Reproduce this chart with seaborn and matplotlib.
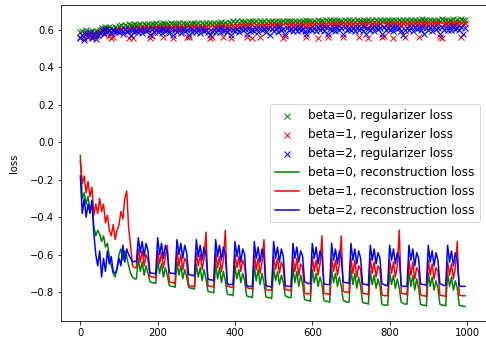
import numpy as np
import matplotlib
matplotlib.use("Agg")
import matplotlib.pyplot as plt
import seaborn as sns

# training step (sampled every 5 steps)
steps = np.arange(0, 1000, 5)

g_reg = [
    0.588, 0.594, 0.583, 0.598, 0.590, 0.586, 0.595, 0.589, 0.597, 0.592,
    0.603, 0.611, 0.606, 0.615, 0.609, 0.618, 0.612, 0.607, 0.616, 0.613,
    0.620, 0.626, 0.618, 0.629, 0.623, 0.631, 0.625, 0.622, 0.630, 0.627,
    0.627, 0.633, 0.624, 0.635, 0.629, 0.632, 0.626, 0.634, 0.630, 0.636,
    0.629, 0.635, 0.626, 0.636, 0.631, 0.634, 0.628, 0.637, 0.632, 0.635,
    0.630, 0.636, 0.627, 0.637, 0.632, 0.635, 0.629, 0.638, 0.633, 0.637,
    0.631, 0.637, 0.628, 0.638, 0.633, 0.636, 0.630, 0.639, 0.634, 0.638,
    0.633, 0.639, 0.630, 0.641, 0.635, 0.638, 0.632, 0.645, 0.640, 0.646,
    0.640, 0.646, 0.638, 0.648, 0.642, 0.645, 0.639, 0.649, 0.644, 0.647,
    0.641, 0.647, 0.639, 0.649, 0.643, 0.646, 0.640, 0.650, 0.645, 0.648,
    0.642, 0.648, 0.640, 0.650, 0.644, 0.647, 0.641, 0.651, 0.646, 0.649,
    0.643, 0.649, 0.641, 0.651, 0.645, 0.648, 0.642, 0.652, 0.647, 0.650,
    0.645, 0.651, 0.643, 0.653, 0.647, 0.650, 0.644, 0.654, 0.649, 0.652,
    0.646, 0.652, 0.644, 0.654, 0.648, 0.651, 0.645, 0.655, 0.650, 0.653,
    0.646, 0.652, 0.644, 0.654, 0.648, 0.651, 0.645, 0.655, 0.650, 0.653,
    0.647, 0.653, 0.645, 0.655, 0.649, 0.652, 0.646, 0.656, 0.651, 0.654,
    0.647, 0.653, 0.645, 0.655, 0.649, 0.652, 0.646, 0.656, 0.651, 0.654,
    0.648, 0.654, 0.646, 0.656, 0.650, 0.653, 0.647, 0.657, 0.652, 0.655,
    0.648, 0.654, 0.646, 0.656, 0.650, 0.653, 0.647, 0.657, 0.652, 0.655,
    0.649, 0.655, 0.647, 0.657, 0.651, 0.654, 0.648, 0.657, 0.653, 0.656,
]

r_reg = [
    0.565, 0.572, 0.558, 0.578, 0.568, 0.575, 0.562, 0.580, 0.570, 0.576,
    0.590, 0.598, 0.585, 0.600, 0.594, 0.568, 0.558, 0.562, 0.596, 0.601,
    0.598, 0.605, 0.595, 0.607, 0.600, 0.560, 0.604, 0.556, 0.606, 0.600,
    0.606, 0.612, 0.603, 0.614, 0.608, 0.611, 0.560, 0.566, 0.613, 0.609,
    0.608, 0.614, 0.605, 0.562, 0.610, 0.613, 0.607, 0.616, 0.558, 0.611,
    0.610, 0.616, 0.607, 0.618, 0.612, 0.561, 0.565, 0.617, 0.611, 0.615,
    0.611, 0.617, 0.608, 0.619, 0.613, 0.616, 0.610, 0.559, 0.564, 0.616,
    0.613, 0.619, 0.610, 0.621, 0.562, 0.618, 0.612, 0.622, 0.560, 0.618,
    0.618, 0.624, 0.615, 0.626, 0.620, 0.623, 0.563, 0.627, 0.622, 0.558,
    0.619, 0.625, 0.616, 0.561, 0.621, 0.624, 0.618, 0.628, 0.623, 0.626,
    0.620, 0.626, 0.617, 0.628, 0.622, 0.560, 0.566, 0.629, 0.624, 0.627,
    0.622, 0.628, 0.619, 0.630, 0.624, 0.627, 0.621, 0.562, 0.626, 0.629,
    0.624, 0.630, 0.621, 0.560, 0.626, 0.629, 0.623, 0.633, 0.564, 0.631,
    0.625, 0.631, 0.622, 0.633, 0.627, 0.630, 0.561, 0.634, 0.629, 0.632,
    0.626, 0.632, 0.623, 0.634, 0.563, 0.631, 0.625, 0.635, 0.630, 0.559,
    0.627, 0.633, 0.624, 0.635, 0.629, 0.632, 0.562, 0.567, 0.631, 0.634,
    0.627, 0.633, 0.560, 0.635, 0.629, 0.632, 0.626, 0.636, 0.564, 0.634,
    0.628, 0.634, 0.625, 0.636, 0.630, 0.561, 0.627, 0.637, 0.632, 0.635,
    0.628, 0.634, 0.625, 0.636, 0.630, 0.633, 0.563, 0.558, 0.632, 0.635,
    0.629, 0.635, 0.626, 0.637, 0.631, 0.634, 0.628, 0.562, 0.633, 0.636,
]

b_reg = [
    0.555, 0.575, 0.548, 0.585, 0.562, 0.590, 0.558, 0.580, 0.552, 0.572,
    0.585, 0.600, 0.578, 0.605, 0.590, 0.598, 0.582, 0.603, 0.588, 0.596,
    0.588, 0.602, 0.580, 0.606, 0.592, 0.599, 0.575, 0.604, 0.590, 0.597,
    0.589, 0.603, 0.585, 0.607, 0.593, 0.600, 0.576, 0.605, 0.591, 0.598,
    0.590, 0.604, 0.586, 0.608, 0.594, 0.601, 0.587, 0.606, 0.574, 0.599,
    0.590, 0.604, 0.586, 0.608, 0.594, 0.601, 0.575, 0.606, 0.592, 0.599,
    0.591, 0.605, 0.587, 0.609, 0.595, 0.602, 0.588, 0.576, 0.593, 0.600,
    0.592, 0.606, 0.588, 0.610, 0.596, 0.603, 0.589, 0.608, 0.575, 0.601,
    0.594, 0.608, 0.590, 0.612, 0.598, 0.605, 0.577, 0.610, 0.596, 0.603,
    0.595, 0.609, 0.591, 0.613, 0.599, 0.606, 0.592, 0.611, 0.576, 0.604,
    0.596, 0.610, 0.592, 0.614, 0.600, 0.607, 0.578, 0.612, 0.598, 0.605,
    0.597, 0.611, 0.593, 0.615, 0.601, 0.608, 0.594, 0.577, 0.599, 0.606,
    0.598, 0.612, 0.594, 0.616, 0.602, 0.609, 0.595, 0.614, 0.578, 0.607,
    0.599, 0.613, 0.595, 0.617, 0.603, 0.610, 0.579, 0.615, 0.601, 0.608,
    0.599, 0.613, 0.595, 0.617, 0.603, 0.610, 0.596, 0.615, 0.577, 0.608,
    0.600, 0.614, 0.596, 0.618, 0.604, 0.611, 0.578, 0.616, 0.602, 0.609,
    0.600, 0.614, 0.596, 0.618, 0.604, 0.611, 0.597, 0.576, 0.602, 0.609,
    0.601, 0.615, 0.597, 0.619, 0.605, 0.612, 0.598, 0.617, 0.579, 0.610,
    0.601, 0.615, 0.597, 0.619, 0.605, 0.612, 0.577, 0.617, 0.603, 0.610,
    0.602, 0.616, 0.598, 0.620, 0.606, 0.613, 0.599, 0.618, 0.578, 0.611,
]

g_rec = [
    -0.07, -0.30, -0.27, -0.33, -0.29, -0.36, -0.33, -0.45, -0.50, -0.47,
    -0.49, -0.53, -0.50, -0.56, -0.54, -0.61, -0.66, -0.70, -0.72, -0.67,
    -0.60, -0.57, -0.63, -0.58, -0.61, -0.66, -0.70, -0.72, -0.73, -0.73,
    -0.62, -0.69, -0.64, -0.71, -0.66, -0.70, -0.745, -0.75, -0.75, -0.755,
    -0.63, -0.70, -0.65, -0.72, -0.67, -0.71, -0.765, -0.77, -0.77, -0.775,
    -0.64, -0.71, -0.66, -0.73, -0.68, -0.72, -0.775, -0.78, -0.78, -0.785,
    -0.65, -0.72, -0.67, -0.74, -0.68, -0.73, -0.795, -0.80, -0.80, -0.805,
    -0.65, -0.73, -0.67, -0.75, -0.69, -0.74, -0.81, -0.815, -0.815, -0.82,
    -0.66, -0.73, -0.68, -0.75, -0.70, -0.74, -0.82, -0.825, -0.825, -0.83,
    -0.66, -0.74, -0.68, -0.76, -0.70, -0.75, -0.825, -0.83, -0.83, -0.835,
    -0.67, -0.74, -0.69, -0.76, -0.71, -0.75, -0.82, -0.825, -0.83, -0.83,
    -0.67, -0.75, -0.69, -0.77, -0.71, -0.76, -0.84, -0.845, -0.845, -0.85,
    -0.68, -0.75, -0.70, -0.77, -0.72, -0.76, -0.845, -0.85, -0.85, -0.855,
    -0.68, -0.75, -0.70, -0.77, -0.72, -0.77, -0.845, -0.85, -0.855, -0.855,
    -0.68, -0.76, -0.70, -0.78, -0.72, -0.77, -0.855, -0.86, -0.86, -0.865,
    -0.69, -0.76, -0.71, -0.78, -0.73, -0.77, -0.865, -0.87, -0.87, -0.87,
    -0.69, -0.76, -0.71, -0.78, -0.73, -0.78, -0.855, -0.86, -0.865, -0.865,
    -0.69, -0.77, -0.71, -0.79, -0.73, -0.78, -0.865, -0.87, -0.87, -0.875,
    -0.70, -0.77, -0.72, -0.79, -0.74, -0.78, -0.865, -0.87, -0.87, -0.875,
    -0.70, -0.77, -0.72, -0.79, -0.74, -0.78, -0.87, -0.875, -0.875, -0.878,
]

r_rec = [
    -0.10, -0.22, -0.18, -0.27, -0.21, -0.29, -0.24, -0.39, -0.33, -0.38,
    -0.30, -0.37, -0.33, -0.43, -0.39, -0.47, -0.50, -0.44, -0.52, -0.47,
    -0.44, -0.37, -0.41, -0.30, -0.26, -0.46, -0.55, -0.66, -0.67, -0.67,
    -0.57, -0.64, -0.58, -0.66, -0.60, -0.63, -0.715, -0.72, -0.72, -0.725,
    -0.58, -0.65, -0.59, -0.67, -0.61, -0.55, -0.745, -0.75, -0.75, -0.755,
    -0.58, -0.66, -0.60, -0.68, -0.62, -0.64, -0.765, -0.77, -0.77, -0.77,
    -0.59, -0.66, -0.60, -0.68, -0.62, -0.48, -0.765, -0.77, -0.77, -0.775,
    -0.59, -0.67, -0.61, -0.69, -0.63, -0.47, -0.77, -0.77, -0.775, -0.775,
    -0.60, -0.67, -0.61, -0.69, -0.63, -0.66, -0.775, -0.78, -0.78, -0.785,
    -0.60, -0.68, -0.62, -0.70, -0.64, -0.52, -0.785, -0.79, -0.79, -0.79,
    -0.61, -0.68, -0.62, -0.70, -0.64, -0.67, -0.785, -0.79, -0.79, -0.795,
    -0.61, -0.69, -0.62, -0.71, -0.65, -0.67, -0.805, -0.81, -0.81, -0.81,
    -0.61, -0.69, -0.63, -0.71, -0.65, -0.50, -0.805, -0.81, -0.81, -0.815,
    -0.62, -0.69, -0.63, -0.71, -0.65, -0.50, -0.795, -0.80, -0.80, -0.805,
    -0.62, -0.70, -0.63, -0.72, -0.66, -0.68, -0.805, -0.81, -0.81, -0.815,
    -0.62, -0.70, -0.64, -0.72, -0.66, -0.68, -0.815, -0.82, -0.82, -0.82,
    -0.63, -0.70, -0.64, -0.72, -0.66, -0.47, -0.805, -0.81, -0.81, -0.815,
    -0.63, -0.71, -0.64, -0.73, -0.67, -0.69, -0.815, -0.82, -0.82, -0.825,
    -0.63, -0.71, -0.65, -0.73, -0.67, -0.69, -0.815, -0.82, -0.82, -0.825,
    -0.64, -0.71, -0.65, -0.73, -0.67, -0.53, -0.815, -0.82, -0.82, -0.82,
]

b_rec = [
    -0.18, -0.38, -0.30, -0.40, -0.33, -0.38, -0.31, -0.49, -0.60, -0.66,
    -0.58, -0.72, -0.62, -0.69, -0.58, -0.65, -0.61, -0.69, -0.70, -0.68,
    -0.62, -0.66, -0.55, -0.64, -0.57, -0.60, -0.62, -0.64, -0.635, -0.64,
    -0.51, -0.59, -0.53, -0.61, -0.54, -0.58, -0.695, -0.70, -0.70, -0.705,
    -0.51, -0.60, -0.54, -0.62, -0.55, -0.59, -0.695, -0.70, -0.70, -0.705,
    -0.52, -0.60, -0.54, -0.62, -0.55, -0.59, -0.705, -0.71, -0.71, -0.715,
    -0.52, -0.61, -0.55, -0.63, -0.56, -0.60, -0.73, -0.735, -0.735, -0.74,
    -0.52, -0.61, -0.55, -0.63, -0.56, -0.60, -0.755, -0.76, -0.76, -0.76,
    -0.53, -0.61, -0.55, -0.64, -0.57, -0.60, -0.765, -0.77, -0.77, -0.77,
    -0.53, -0.62, -0.56, -0.64, -0.57, -0.61, -0.765, -0.77, -0.77, -0.775,
    -0.53, -0.62, -0.56, -0.64, -0.57, -0.61, -0.765, -0.77, -0.77, -0.77,
    -0.54, -0.62, -0.56, -0.64, -0.58, -0.61, -0.745, -0.75, -0.755, -0.755,
    -0.54, -0.62, -0.56, -0.65, -0.58, -0.61, -0.755, -0.76, -0.76, -0.76,
    -0.54, -0.63, -0.57, -0.65, -0.58, -0.62, -0.745, -0.75, -0.75, -0.755,
    -0.54, -0.63, -0.57, -0.65, -0.58, -0.62, -0.755, -0.76, -0.76, -0.765,
    -0.55, -0.63, -0.57, -0.65, -0.59, -0.62, -0.755, -0.76, -0.765, -0.765,
    -0.55, -0.63, -0.57, -0.65, -0.59, -0.62, -0.765, -0.77, -0.77, -0.77,
    -0.55, -0.63, -0.57, -0.66, -0.59, -0.62, -0.755, -0.76, -0.76, -0.765,
    -0.55, -0.64, -0.58, -0.66, -0.59, -0.63, -0.755, -0.76, -0.765, -0.765,
    -0.55, -0.64, -0.58, -0.66, -0.59, -0.63, -0.765, -0.77, -0.77, -0.77,
]

betas = [0, 1, 2]
colors = ["g", "r", "b"]

fig = plt.figure(figsize=(486 / 72, 346 / 72), dpi=72)
ax = fig.add_axes([61 / 486, 25 / 346, 424.5 / 486, 316 / 346])

for beta, col, reg in zip(betas, colors, [g_reg, r_reg, b_reg]):
    sns.scatterplot(x=steps, y=reg, ax=ax, color=col, marker="x", s=36,
                    linewidth=1.0, label=f"beta={beta}, regularizer loss")
for beta, col, rec in zip(betas, colors, [g_rec, r_rec, b_rec]):
    sns.lineplot(x=steps, y=rec, ax=ax, color=col, linewidth=1.5,
                 label=f"beta={beta}, reconstruction loss")

ax.set_xlim(-50, 1048)
ax.set_ylim(-0.955, 0.734)
ax.set_xticks([0, 200, 400, 600, 800, 1000])
ax.set_yticks([-0.8, -0.6, -0.4, -0.2, 0.0, 0.2, 0.4, 0.6])
ax.set_ylabel("loss", fontsize=10, labelpad=11)
ax.set_xlabel("")
ax.legend(loc="center right", fontsize=12)

fig.savefig("out.png", dpi=72)
